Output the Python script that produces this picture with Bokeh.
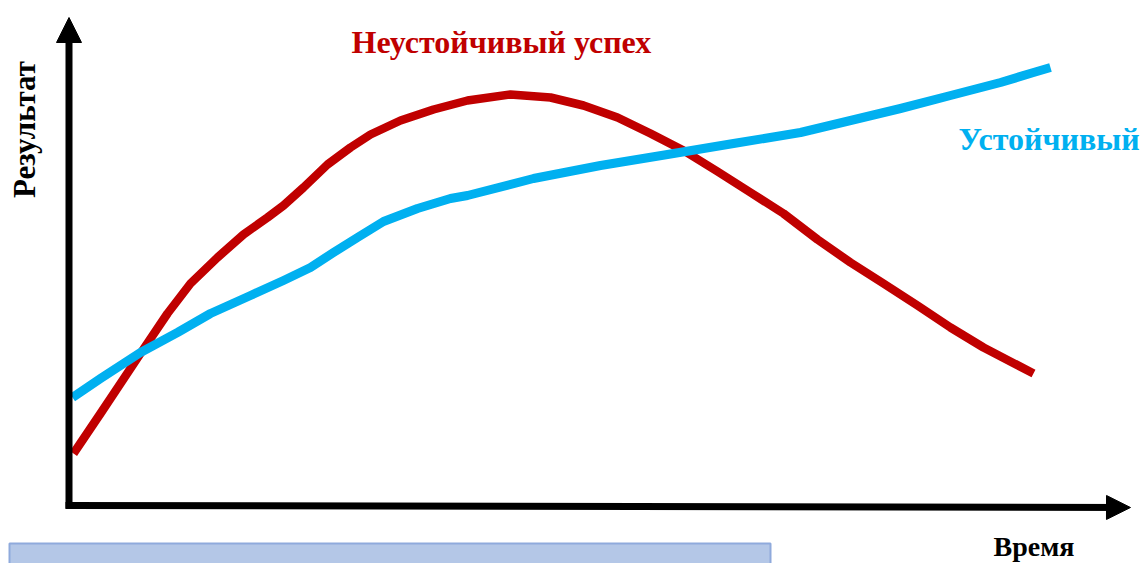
import math
from bokeh.plotting import figure
from bokeh.models import Range1d, Label, Arrow, NormalHead
from bokeh.embed import file_html
from bokeh.resources import INLINE

# Data (in picture pixel units)
stable_x = [72, 100, 140, 177, 210, 250, 283, 310, 333, 357, 383, 417, 450, 467, 533, 600, 667, 733, 800, 850, 900, 950, 1000, 1033, 1050]
stable_y = [397, 378, 352, 332, 313, 295, 280, 267, 252, 237, 221, 208, 198, 195, 178, 165, 154, 143, 132, 120, 108, 95, 82, 72, 67]

unstable_x = [73, 100, 140, 167, 190, 217, 243, 267, 283, 303, 327, 350, 370, 400, 433, 467, 510, 550, 583, 617, 650, 683, 717, 750, 783, 817, 850, 883, 917, 950, 983, 1033]
unstable_y = [453, 413, 353, 313, 283, 257, 234, 217, 205, 187, 164, 147, 134, 120, 109, 100, 94, 97, 105, 117, 133, 150, 171, 192, 213, 239, 262, 283, 305, 327, 347, 373]

label_unstable = "Неустойчивый успех"
label_stable = "Устойчивый"
label_x = "Время"
label_y = "Результат"

RED = "#C00000"
BLUE = "#00B0F0"
FONT = "Liberation Serif"

W, H = 1142, 563
p = figure(width=W, height=H, output_backend="svg", toolbar_location=None,
           x_range=Range1d(0, W), y_range=Range1d(H, 0),
           x_axis_location=None, y_axis_location=None, min_border=0)
p.grid.visible = False
p.outline_line_color = None
p.background_fill_color = "white"

# bottom box
p.quad(left=[9], right=[770], top=[543], bottom=[570], fill_color="#B4C7E7",
       line_color="#8FAADC", line_width=2)

# axes with arrows
p.add_layout(Arrow(end=NormalHead(size=25, fill_color="black", line_color="black", line_width=1),
                   x_start=68.5, y_start=508, x_end=68.5, y_end=17,
                   line_width=7, line_color="black"))
p.add_layout(Arrow(end=NormalHead(size=24, fill_color="black", line_color="black", line_width=1),
                   x_start=65, y_start=505, x_end=1130, y_end=507,
                   line_width=7, line_color="black"))

# curves
p.line(unstable_x, unstable_y, line_color=RED, line_width=8.5, line_join="round")
p.line(stable_x, stable_y, line_color=BLUE, line_width=9, line_join="round")

# labels
p.add_layout(Label(x=351, y=41, text=label_unstable, text_color=RED, text_font=FONT,
                   text_font_style="bold", text_font_size="32px", text_baseline="alphabetic"))
p.add_layout(Label(x=958, y=138, text=label_stable, text_color=BLUE, text_font=FONT,
                   text_font_style="bold", text_font_size="32px", text_baseline="alphabetic"))
p.add_layout(Label(x=993, y=546, text=label_x, text_color="black", text_font=FONT,
                   text_font_style="bold", text_font_size="28px", text_baseline="alphabetic"))
p.add_layout(Label(x=24, y=129, text=label_y, text_color="black", text_font=FONT,
                   text_font_style="bold", text_font_size="31px", text_baseline="middle",
                   text_align="center", angle=math.pi / 2))

open("out.html", "w").write(file_html(p, INLINE))
